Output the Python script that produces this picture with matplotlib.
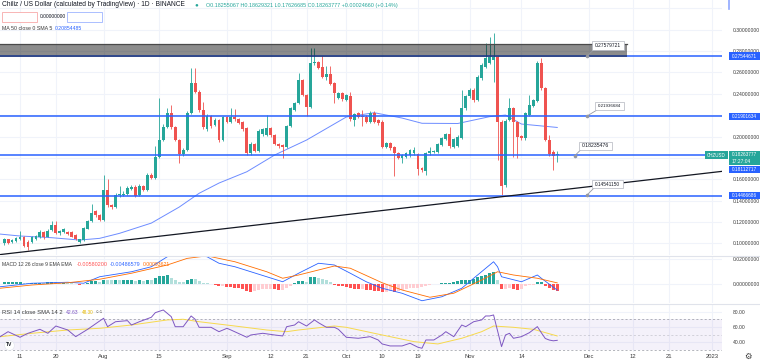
import numpy as np
import pandas as pd
import matplotlib
matplotlib.use("Agg")
import matplotlib.pyplot as plt
import matplotlib.dates as mdates
from matplotlib.patches import Rectangle
from matplotlib.lines import Line2D

plt.rcParams['font.family'] = ['Liberation Sans', 'DejaVu Sans']

W, H = 760, 364
GREEN, RED, BLUE = '#26a69a', '#ef5350', '#2962ff'

# daily candles CHZ/USD, 2022-07-07 .. 2022-11-23
dates = pd.date_range("2022-07-07", periods=140, freq="D")
opens = [0.0999, 0.1037, 0.1009, 0.1024, 0.1042, 0.1061, 0.1014, 0.1014, 0.1040, 0.1056,
         0.1105, 0.1061, 0.1124, 0.1168, 0.1093, 0.1105, 0.1105, 0.1105, 0.1080, 0.1012,
         0.1030, 0.1136, 0.1208, 0.1299, 0.1262, 0.1218, 0.1499, 0.1358, 0.1342, 0.1449,
         0.1452, 0.1461, 0.1511, 0.1530, 0.1452, 0.1536, 0.1499, 0.1642, 0.1614, 0.1811,
         0.1967, 0.2092, 0.2223, 0.2086, 0.1967, 0.1836, 0.1874, 0.2223, 0.2504, 0.2420,
         0.2248, 0.2067, 0.2192, 0.2108, 0.2155, 0.1967, 0.2180, 0.2139, 0.2180, 0.2161,
         0.2139, 0.2077, 0.1843, 0.1930, 0.1867, 0.2023, 0.2017, 0.2080, 0.2014, 0.1930,
         0.1920, 0.1904, 0.2098, 0.2248, 0.2311, 0.2529, 0.2389, 0.2279, 0.2686, 0.2701,
         0.2654, 0.2560, 0.2586, 0.2499, 0.2358, 0.2405, 0.2342, 0.2380, 0.2155, 0.2217,
         0.2192, 0.2186, 0.2139, 0.2223, 0.2155, 0.2139, 0.1902, 0.1942, 0.1899, 0.1843,
         0.1803, 0.1811, 0.1827, 0.1843, 0.1836, 0.1702, 0.1680, 0.1843, 0.1855, 0.1858,
         0.1920, 0.1974, 0.2021, 0.1904, 0.1911, 0.1986, 0.2264, 0.2380, 0.2436, 0.2342,
         0.2548, 0.2654, 0.2686, 0.2717, 0.2742, 0.2139, 0.1546, 0.2155, 0.2264, 0.2139,
         0.2005, 0.1983, 0.2201, 0.2286, 0.2335, 0.2686, 0.2452, 0.1967, 0.1858, 0.1826]
highs = [0.1049, 0.1044, 0.1040, 0.1054, 0.1117, 0.1072, 0.1026, 0.1068, 0.1082, 0.1124,
         0.1115, 0.1133, 0.1211, 0.1211, 0.1124, 0.1147, 0.1115, 0.1115, 0.1091, 0.1044,
         0.1152, 0.1218, 0.1368, 0.1311, 0.1274, 0.1639, 0.1602, 0.1368, 0.1471, 0.1536,
         0.1489, 0.1536, 0.1546, 0.1546, 0.1555, 0.1546, 0.1658, 0.1658, 0.1911, 0.2358,
         0.2117, 0.2267, 0.2295, 0.2098, 0.1977, 0.1892, 0.2239, 0.2639, 0.2645, 0.2436,
         0.2326, 0.2211, 0.2206, 0.2173, 0.2164, 0.2192, 0.2192, 0.2267, 0.2258, 0.2173,
         0.2150, 0.2089, 0.1944, 0.1939, 0.2070, 0.2080, 0.2201, 0.2089, 0.2023, 0.1939,
         0.1930, 0.2108, 0.2276, 0.2323, 0.2595, 0.2539, 0.2398, 0.2826, 0.2826, 0.2712,
         0.2754, 0.2661, 0.2661, 0.2511, 0.2417, 0.2417, 0.2398, 0.2420, 0.2220, 0.2230,
         0.2248, 0.2197, 0.2239, 0.2239, 0.2164, 0.2155, 0.1953, 0.1953, 0.1911, 0.1855,
         0.1836, 0.1855, 0.1883, 0.1904, 0.1846, 0.1714, 0.1855, 0.1902, 0.1874, 0.1939,
         0.1995, 0.2033, 0.2089, 0.1986, 0.2014, 0.2436, 0.2393, 0.2454, 0.2450, 0.2576,
         0.2689, 0.2873, 0.2935, 0.2967, 0.2754, 0.2155, 0.2164, 0.2358, 0.2276, 0.2150,
         0.2014, 0.2230, 0.2389, 0.2351, 0.2707, 0.2733, 0.2464, 0.2014, 0.1874, 0.1863]
lows = [0.0988, 0.0993, 0.1002, 0.1016, 0.1035, 0.0965, 0.0941, 0.1002, 0.1030, 0.1049,
        0.1044, 0.1054, 0.1115, 0.1086, 0.1082, 0.1096, 0.1077, 0.1054, 0.1035, 0.1002,
        0.1021, 0.1129, 0.1199, 0.1250, 0.1208, 0.1208, 0.1344, 0.1321, 0.1335, 0.1436,
        0.1443, 0.1452, 0.1503, 0.1433, 0.1443, 0.1489, 0.1489, 0.1602, 0.1602, 0.1799,
        0.1958, 0.2080, 0.2070, 0.1958, 0.1752, 0.1817, 0.1864, 0.2211, 0.2408, 0.2230,
        0.2070, 0.2056, 0.2084, 0.2098, 0.1953, 0.1958, 0.2127, 0.2127, 0.2150, 0.2117,
        0.2056, 0.1827, 0.1827, 0.1855, 0.1855, 0.2009, 0.2005, 0.2000, 0.1916, 0.1897,
        0.1796, 0.1892, 0.2089, 0.2239, 0.2300, 0.2375, 0.2192, 0.2267, 0.2670, 0.2628,
        0.2548, 0.2529, 0.2478, 0.2314, 0.2347, 0.2337, 0.2333, 0.2150, 0.2098, 0.2169,
        0.2098, 0.2127, 0.2127, 0.2127, 0.2112, 0.1888, 0.1888, 0.1878, 0.1630, 0.1789,
        0.1752, 0.1799, 0.1808, 0.1827, 0.1639, 0.1672, 0.1639, 0.1831, 0.1841, 0.1850,
        0.1911, 0.1963, 0.1897, 0.1892, 0.1902, 0.1977, 0.2248, 0.2361, 0.2323, 0.2333,
        0.2534, 0.2642, 0.2675, 0.2514, 0.1780, 0.1455, 0.1527, 0.2141, 0.1811, 0.1799,
        0.1972, 0.1967, 0.2192, 0.2276, 0.2323, 0.2440, 0.1958, 0.1822, 0.1686, 0.1763]
closes = [0.1037, 0.1002, 0.1030, 0.1046, 0.1061, 0.0974, 0.0962, 0.1056, 0.1071, 0.1105,
          0.1056, 0.1117, 0.1168, 0.1093, 0.1112, 0.1136, 0.1086, 0.1061, 0.1042, 0.1037,
          0.1143, 0.1208, 0.1286, 0.1262, 0.1218, 0.1499, 0.1358, 0.1342, 0.1452, 0.1461,
          0.1466, 0.1515, 0.1530, 0.1445, 0.1536, 0.1499, 0.1642, 0.1614, 0.1811, 0.1967,
          0.2092, 0.2223, 0.2086, 0.1967, 0.1836, 0.1874, 0.2223, 0.2504, 0.2420, 0.2248,
          0.2086, 0.2192, 0.2098, 0.2155, 0.1967, 0.2180, 0.2139, 0.2180, 0.2161, 0.2129,
          0.2067, 0.1843, 0.1930, 0.1867, 0.2054, 0.2067, 0.2080, 0.2014, 0.1930, 0.1911,
          0.1904, 0.2098, 0.2264, 0.2311, 0.2529, 0.2389, 0.2279, 0.2686, 0.2701, 0.2639,
          0.2560, 0.2586, 0.2492, 0.2405, 0.2405, 0.2349, 0.2389, 0.2161, 0.2211, 0.2180,
          0.2180, 0.2139, 0.2223, 0.2139, 0.2124, 0.1902, 0.1942, 0.1889, 0.1843, 0.1803,
          0.1827, 0.1843, 0.1874, 0.1874, 0.1693, 0.1686, 0.1843, 0.1864, 0.1864, 0.1930,
          0.1983, 0.2021, 0.1911, 0.1974, 0.1998, 0.2264, 0.2380, 0.2436, 0.2342, 0.2560,
          0.2670, 0.2733, 0.2742, 0.2742, 0.2139, 0.1541, 0.2148, 0.2264, 0.2139, 0.1998,
          0.1986, 0.2217, 0.2295, 0.2342, 0.2686, 0.2452, 0.1967, 0.1836, 0.1817, 0.1826]

# indicator samples, days counted from 2022-07-11
base = pd.Timestamp("2022-07-11")
ma_day = [-5, 0, 8, 15, 20, 25, 33, 40, 45, 50, 57, 64, 72, 82, 89, 96, 101, 110, 118, 122, 126, 135]
ma_val = [0.1086, 0.1068, 0.1052, 0.1030, 0.1046, 0.1093, 0.1189, 0.1339, 0.1468, 0.1564, 0.1670,
          0.1827, 0.1967, 0.2183, 0.2223, 0.2173, 0.2124, 0.2122, 0.2186, 0.2201, 0.2117, 0.2085]

macd_day = [-5, 3, 12, 16, 20, 28, 33, 37, 41, 47, 50, 54, 62, 66, 70, 75, 79, 83, 87, 91, 96,
            101, 106, 111, 114, 119, 120, 121, 126, 130, 131, 135]
macd_val = [-0.0022, 0.0006, 0.0014, 0.0006, 0.0058, 0.0098, 0.0138, 0.0218, 0.0245, 0.0218,
            0.0166, 0.0138, 0.0058, 0.0018, 0.0086, 0.0166, 0.0152, 0.0086, 0.0018, -0.0034,
            -0.0074, -0.0134, -0.0102, -0.0034, 0.0046, 0.0178, 0.0138, 0.0058, 0.0018, 0.0072,
            0.0046, -0.0049]
signal_day = [-5, 3, 12, 20, 28, 37, 42, 47, 54, 62, 66, 70, 79, 83, 91, 96, 103, 109, 116,
              120, 124, 130, 135]
signal_val = [-0.0034, -0.0008, 0.0010, 0.0038, 0.0086, 0.0152, 0.0205, 0.0225, 0.0178, 0.0098,
              0.0046, 0.0072, 0.0144, 0.0126, 0.0010, -0.0048, -0.0106, -0.0074, 0.0032, 0.0098,
              0.0072, 0.0046, 0.0009]
hist = [0.0016, 0.0016, 0.0018, 0.0018, 0.0020, 0.0012, 0.0008, 0.0008, 0.0010, 0.0012,
        0.0010, 0.0016, 0.0020, 0.0016, 0.0012, 0.0012, 0.0010, 0.0006, 0.0002, -0.0004,
        0.0002, 0.0012, 0.0024, 0.0024, 0.0020, 0.0036, 0.0034, 0.0032, 0.0034, 0.0032,
        0.0032, 0.0034, 0.0034, 0.0028, 0.0030, 0.0026, 0.0036, 0.0034, 0.0052, 0.0064,
        0.0068, 0.0072, 0.0052, 0.0036, 0.0020, 0.0016, 0.0032, 0.0044, 0.0040, 0.0024,
        0.0012, 0.0006, 0.0002, -0.0004, -0.0016, -0.0016, -0.0020, -0.0022, -0.0028, -0.0032,
        -0.0038, -0.0056, -0.0060, -0.0056, -0.0044, -0.0040, -0.0036, -0.0036, -0.0040, -0.0044,
        -0.0044, -0.0028, -0.0012, 0.0012, 0.0028, 0.0028, 0.0020, 0.0056, 0.0060, 0.0052,
        0.0040, 0.0032, 0.0020, -0.0004, -0.0012, -0.0016, -0.0020, -0.0032, -0.0036, -0.0040,
        -0.0040, -0.0044, -0.0048, -0.0052, -0.0056, -0.0060, -0.0060, -0.0056, -0.0060, -0.0056,
        -0.0048, -0.0040, -0.0032, -0.0028, -0.0028, -0.0024, -0.0016, -0.0010, -0.0002, 0.0004,
        0.0006, 0.0008, 0.0012, 0.0020, 0.0024, 0.0036, 0.0036, 0.0036, 0.0044, 0.0056,
        0.0064, 0.0076, 0.0088, 0.0096, 0.0036, -0.0040, -0.0040, -0.0032, -0.0036, -0.0044,
        -0.0040, -0.0016, -0.0008, -0.0004, 0.0020, 0.0020, -0.0012, -0.0032, -0.0044, -0.0058]

rsi_day = [-5, -3, 0, 2, 5, 7, 9, 12, 14, 17, 21, 22, 24, 27, 28, 30, 33, 34, 36, 38, 39, 41,
           43, 44, 45, 48, 50, 52, 53, 57, 58, 61, 64, 66, 67, 69, 70, 72, 74, 75, 77, 79, 80,
           82, 85, 88, 90, 91, 93, 96, 98, 100, 101, 102, 104, 106, 107, 109, 111, 112, 114,
           116, 117, 118, 119, 120, 121, 122, 123, 124, 126, 128, 130, 131, 132, 133, 134, 135]
rsi_val = [47.4, 53.9, 46.6, 51.8, 57.0, 51.8, 61.3, 56.1, 47.4, 57.0, 71.4, 60.4, 66.9, 68.3,
           62.6, 66.9, 72.7, 78.7, 82.2, 73.5, 60.4, 60.4, 74.4, 70.1, 59.6, 59.6, 53.9, 58.3,
           56.1, 46.6, 49.6, 51.8, 49.6, 48.3, 60.4, 62.6, 66.9, 61.3, 69.2, 65.6, 59.6, 59.6,
           57.0, 46.6, 45.3, 47.4, 43.1, 37.9, 35.3, 35.3, 38.8, 33.6, 32.3, 43.1, 43.1, 49.6,
           53.9, 47.4, 62.6, 60.4, 66.9, 69.2, 74.4, 74.4, 75.7, 55.0, 34.4, 49.6, 51.8, 45.3,
           47.4, 52.6, 60.5, 52.5, 45.0, 43.0, 42.0, 42.63]
rsi_ma_day = [-5, 3, 12, 20, 28, 37, 41, 45, 54, 62, 67, 70, 79, 82, 91, 99, 105, 111, 116,
              119, 124, 129, 135]
rsi_ma_val = [47.4, 51.8, 56.1, 58.3, 62.6, 69.2, 70.1, 66.9, 61.3, 56.1, 53.9, 56.1, 61.3,
              59.6, 49.6, 40.9, 37.9, 45.3, 53.9, 61.3, 59.6, 57.0, 48.3]

# drawings on the price pane
levels = [0.27544671, 0.21901634, 0.18235476, 0.14466686]
zone_low, zone_high, zone_end_day = 0.2745, 0.2871, 152.5
trend_day = [5, 136]
trend_val = [0.0937, 0.1500]

price_ticks = [0.10, 0.12, 0.14, 0.16, 0.18, 0.20, 0.22, 0.24, 0.26, 0.28, 0.30, 0.32]
covered_ticks = [0.18, 0.22]   # hidden behind the price-scale tags

tick_dates = ["2022-07-11", "2022-07-20", "2022-08-01", "2022-08-15", "2022-09-01", "2022-09-12",
              "2022-09-21", "2022-10-01", "2022-10-10", "2022-10-19", "2022-11-01", "2022-11-14",
              "2022-12-01", "2022-12-12", "2022-12-21", "2023-01-01"]
tick_labels = ["11", "20", "Aug", "15", "Sep", "12", "21", "Oct", "10", "19", "Nov", "14",
               "Dec", "12", "21", "2023"]

# ---------------------------------------------------------------
fig = plt.figure(figsize=(W / 100, H / 100), dpi=100)
fig.patch.set_facecolor('white')


def pane(top, bottom):
    return [0, 1 - bottom / H, 722 / W, (bottom - top) / H]


ax = fig.add_axes(pane(0, 255))
ax_m = fig.add_axes(pane(256, 303), sharex=ax)
ax_r = fig.add_axes(pane(304, 352), sharex=ax)

x = mdates.date2num(dates)
b0 = mdates.date2num(base)
o, h, l, c = map(np.array, (opens, highs, lows, closes))
col = np.where(c >= o, GREEN, RED)

for a in (ax, ax_m, ax_r):
    for s in a.spines.values():
        s.set_visible(False)
    a.set_facecolor('none')
    a.yaxis.tick_right()
    a.tick_params(axis='y', length=0, pad=8, labelsize=3.6, labelcolor='#3b3b3b')
    a.tick_params(axis='x', length=0, labelbottom=False)
    a.grid(True, color='#f0f3fa', lw=0.8)
    a.set_axisbelow(True)

# price pane
ax.vlines(x, l, h, colors=col, lw=0.6, zorder=3)
ax.bar(x, np.maximum(np.abs(c - o), 0.0007), bottom=np.minimum(o, c), width=0.72,
       color=col, lw=0, zorder=4)
ax.plot(b0 + np.array(ma_day), ma_val, color='#6d8cff', lw=0.7, zorder=2)
for lv in levels:
    ax.axhline(lv, color=BLUE, lw=1.1, zorder=5)
ax.add_patch(Rectangle((b0 - 20, zone_low), zone_end_day + 20, zone_high - zone_low,
                       facecolor='black', alpha=0.45, edgecolor='none', zorder=6))
ax.plot([b0 - 20, b0 + zone_end_day], [zone_high, zone_high], color='#4a4a4a', lw=0.9, zorder=6)
ax.axline((b0 + trend_day[0], trend_val[0]), (b0 + trend_day[1], trend_val[1]),
          color='#131722', lw=0.9, zorder=5)
ax.set_ylim(0.0890, 0.3279)
ax.set_yticks(price_ticks)
ax.yaxis.set_major_formatter(plt.FuncFormatter(
    lambda v, p: '' if any(abs(v - t) < 1e-6 for t in covered_ticks) else f'{v:.8f}'))

# MACD pane
hv = np.array(hist)
prev = np.concatenate([[hv[0]], hv[:-1]])
hcol = np.where(hv >= 0, np.where(hv >= prev, '#26a69a', '#b2dfdb'),
                np.where(hv < prev, '#ff5252', '#ffcdd2'))
ax_m.bar(x, hv, width=0.75, color=hcol, lw=0, zorder=2)
ax_m.plot(b0 + np.array(macd_day), macd_val, color=BLUE, lw=0.6, zorder=3)
ax_m.plot(b0 + np.array(signal_day), signal_val, color='#ff6d00', lw=0.6, zorder=3)
ax_m.set_ylim(-0.0152, 0.0224)
ax_m.set_yticks([0.0, 0.02])
ax_m.yaxis.set_major_formatter(plt.FormatStrFormatter('%.8f'))

# RSI pane
ax_r.axhspan(30, 70, color='#7e57c2', alpha=0.08, lw=0)
for lv, al in ((70, 1), (50, 0.5), (30, 1)):
    ax_r.axhline(lv, color='#9598a1', lw=0.5, ls=(0, (3, 3)), alpha=al)
ax_r.plot(b0 + np.array(rsi_ma_day), rsi_ma_val, color='#f7d94c', lw=0.7, zorder=3)
ax_r.plot(b0 + np.array(rsi_day), rsi_val, color='#7e57c2', lw=0.7, zorder=4)
ax_r.set_ylim(27.4, 90.0)
ax_r.set_yticks([40, 60, 80])
ax_r.yaxis.set_major_formatter(plt.FormatStrFormatter('%.2f'))

ax_r.set_xticks(mdates.date2num(pd.to_datetime(tick_dates)))
ax_r.set_xticklabels(tick_labels)
ax_r.tick_params(axis='x', labelbottom=True, labelsize=4.2, labelcolor='#3b3b3b', pad=1.5)
ax.set_xlim(b0 - 5.03, b0 + 176.4)

# pane separators
for yp in (255.5, 303.5):
    fig.add_artist(Line2D([0, 1], [1 - yp / H] * 2, color='#e0e3eb', lw=0.8))

# ---------------------------------------------------------------
renderer = fig.canvas.get_renderer()


def fx(xp):
    return xp / W


def fy(yp):
    return 1 - yp / H


def txt(xp, yp, s, color, size=4.0, ha='left', **kw):
    return fig.text(fx(xp), fy(yp), s, color=color, fontsize=size, ha=ha, va='center', **kw)


def fit(x0, x1, yp, s, color, **kw):
    t = txt(x0, yp, s, color, size=10, **kw)
    w = t.get_window_extent(renderer).width
    t.set_fontsize(10 * (x1 - x0) / w)
    return t


def box(x0, y0, x1, y1, fc, ec='none', lw=0.6, z=10):
    fig.add_artist(Rectangle((fx(x0), fy(y1)), (x1 - x0) / W, (y1 - y0) / H,
                             transform=fig.transFigure, facecolor=fc, edgecolor=ec,
                             lw=lw, zorder=z))


# legend lines
fit(2, 185, 5, "Chiliz / US Dollar (calculated by TradingView) · 1D · BINANCE", '#131722')
txt(196, 5, "●", GREEN, size=4.5, ha='center')
fit(206, 395, 5, "O0.18255067 H0.18629321 L0.17626685 C0.18263777 +0.00024660 (+0.14%)", GREEN)
box(1.5, 12.5, 37, 21.5, 'white', '#f7a9a9')
fit(4, 34.5, 17, "0.18263777", '#f23645')
fit(39.5, 65, 17, "0.00000000", '#131722')
box(67, 12.5, 102, 21.5, 'white', '#9db4ff')
fit(70, 99.5, 17, "0.18263777", BLUE)
fit(2, 52, 29, "MA 50 close 0 SMA 5", '#3b3b3b')
fit(55, 82, 29, "0.20854485", BLUE)

fit(2, 73, 264, "MACD 12 26 close 9 EMA EMA", '#3b3b3b')
fit(77, 107, 264, "-0.00580200", '#ff5252')
fit(110, 140, 264, "-0.00486579", BLUE)
fit(143, 170, 264, "0.00093621", '#ff6d00')

fit(2, 62, 312, "RSI 14 close SMA 14 2", '#3b3b3b')
fit(66, 78.5, 312, "42.63", '#7e57c2')
fit(82, 93.5, 312, "48.30", '#e6b800')
fit(95.5, 101.5, 312, "∅ ∅", '#3b3b3b')

# callout labels on the drawings
for (bx0, by0, bx1, by1, s, ax0, ay0) in [
        (592, 41.5, 624, 49.5, "0.27579721", 587, 56),
        (595, 102, 624, 110, "0.21936684", 587, 116),
        (579, 141.5, 612, 149.5, "0.18235476", 575, 155.5),
        (592, 180, 623, 188, "0.14541150", 587, 195)]:
    fig.add_artist(Line2D([fx(bx0 + 2), fx(ax0)], [fy(by1), fy(ay0)], color='#9598a1', lw=0.6, zorder=11))
    fig.add_artist(Line2D([fx(ax0)], [fy(ay0)], marker='o', ms=1.6, color='#9598a1', zorder=11))
    box(bx0, by0, bx1, by1, 'white', '#b2b5be', lw=0.5, z=12)
    t = fit(bx0 + 3, bx1 - 3, (by0 + by1) / 2, s, '#131722')
    t.set_zorder(13)

# price scale tags
box(722.5, 0, 760, 10, 'white', z=9)
fig.add_artist(Line2D([fx(729), fx(729)], [fy(0), fy(9)], color='#90a8ff', lw=1.2, zorder=11))
fit(733, 749, 4.5, "USD ▾", '#131722')
for (y0, y1, s) in [(52.5, 59.5, "0.27544671"), (112.8, 119.8, "0.21901634"),
                    (166.2, 173.2, "0.18112717"), (192.2, 199.2, "0.14466686")]:
    box(729, y0, 760, y1, BLUE)
    t = fit(732, 757, (y0 + y1) / 2, s, 'white')
    t.set_zorder(12)
box(729, 151, 760, 165.5, GREEN)
t = fit(732, 757, 154.3, "0.18263777", 'white')
t.set_zorder(12)
t = fit(732, 751, 161.6, "17:27:04", 'white')
t.set_zorder(12)
box(705, 151.5, 728, 158.5, GREEN)
t = fit(707, 726, 155, "CHZUSD", 'white')
t.set_zorder(12)

# logo and settings icon
fig.add_artist(Line2D([fx(9)], [fy(345)], marker='o', ms=7, color='white',
                      markeredgecolor='#e0e3eb', mew=0.4, zorder=11))
t = txt(9, 345, "TV", '#131722', size=3.6, ha='center', weight='bold')
t.set_zorder(12)
txt(748, 357.5, "⚙", '#3b3b3b', size=6, ha='center')

fig.savefig("out.png", dpi=100)
